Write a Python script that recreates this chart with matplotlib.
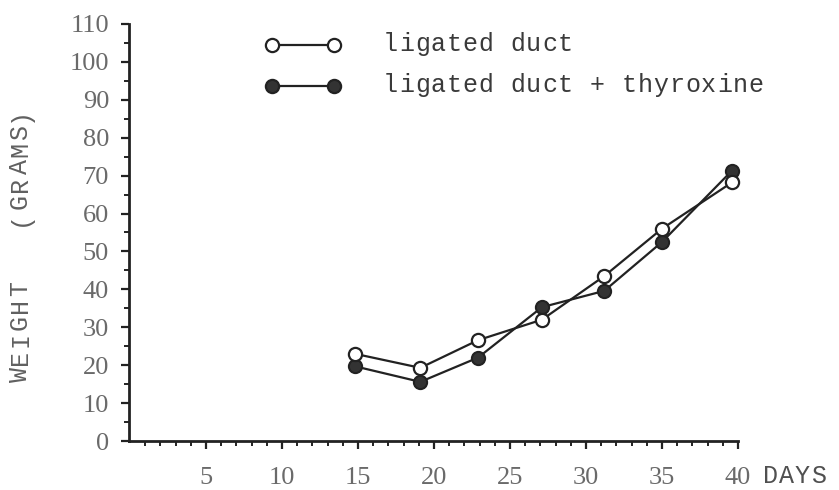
import matplotlib
matplotlib.use("Agg")
import matplotlib.pyplot as plt
from matplotlib.lines import Line2D

# ---- data ----
days = [14.8, 19.1, 22.9, 27.1, 31.2, 35.0, 39.6]
ligated = [23.0, 19.3, 26.6, 32.0, 43.5, 56.0, 68.2]
ligated_thyroxine = [19.7, 15.6, 22.0, 35.3, 39.6, 52.5, 71.3]
x_major = [5, 10, 15, 20, 25, 30, 35, 40]
y_major = list(range(0, 111, 10))
series_labels = ["ligated duct", "ligated duct + thyroxine"]
y_label = "WEIGHT   (GRAMS)"
x_unit = "DAYS"

W, H = 839, 490
fig = plt.figure(figsize=(W / 100, H / 100), dpi=100)
fig.patch.set_facecolor("white")

ax_l, ax_r, ax_b, ax_t = 128.5, 738.0, 441.0, 24.0
ax = fig.add_axes([ax_l / W, 1 - ax_b / H, (ax_r - ax_l) / W, (ax_b - ax_t) / H])
ax.set_xlim(-0.1, 40)
ax.set_ylim(0, 110)

INK = "#222222"
for s in ["top", "right"]:
    ax.spines[s].set_visible(False)
for s in ["left", "bottom"]:
    ax.spines[s].set_linewidth(2.0)
    ax.spines[s].set_color(INK)

ax.set_xticks(x_major)
ax.set_xticks([d for d in range(1, 41) if d % 5 != 0], minor=True)
ax.set_yticks(y_major)
ax.set_yticks([v for v in range(5, 110, 10)], minor=True)
ax.set_xticklabels([str(v) for v in x_major])
ax.set_yticklabels([str(v) for v in y_major])

ax.tick_params(axis="both", which="major", direction="out", length=6, width=1.6,
               color=INK, labelsize=19, labelcolor="#6a6a6a")
ax.tick_params(axis="both", which="minor", direction="out", length=3.5, width=1.4, color=INK)
ax.tick_params(axis="x", which="major", pad=13)
ax.tick_params(axis="y", which="major", pad=8)
for lab in ax.get_xticklabels() + ax.get_yticklabels():
    lab.set_fontfamily("Liberation Serif")

# ---- series ----
ax.plot(days, ligated_thyroxine, color=INK, lw=1.6, marker="o", ms=9.5,
        mfc="#333333", mec=INK, mew=1.5, clip_on=False, zorder=3)
ax.plot(days, ligated, color=INK, lw=1.6, marker="o", ms=9.5,
        mfc="white", mec=INK, mew=1.6, clip_on=False, zorder=4)

# ---- typewriter-style spaced text helper ----
MONO = "Liberation Mono"
TXT = "#3a3a3a"


def spaced(x_px, y_px, s, pitch, size, vertical=False, color=TXT):
    for i, ch in enumerate(s):
        if ch == " ":
            continue
        if vertical:
            fig.text(x_px / W, 1 - (y_px - i * pitch) / H, ch, rotation=90,
                     rotation_mode="anchor", ha="left", va="baseline",
                     fontsize=size, family=MONO, color=color)
        else:
            fig.text((x_px + i * pitch) / W, 1 - y_px / H, ch, ha="left",
                     va="baseline", fontsize=size, family=MONO, color=color)


# y-axis label (vertical, spaced)
spaced(27, 382, y_label, 17.3, 18, vertical=True, color="#606060")
# x unit label
spaced(763, 483, x_unit, 16, 18, color="#505050")

# ---- legend (drawn manually) ----
leg_rows = [(45, "white"), (86, "#333333")]
for (yy, face), label in zip(leg_rows, series_labels):
    yf = 1 - yy / H
    fig.add_artist(Line2D([272 / W, 334 / W], [yf, yf], color=INK, lw=1.6,
                          marker="o", ms=9.5, mfc=face, mec=INK, mew=1.6,
                          transform=fig.transFigure))
    spaced(383, yy + 6, label, 15.9, 18)

fig.savefig("out.png", dpi=100, facecolor="white")
